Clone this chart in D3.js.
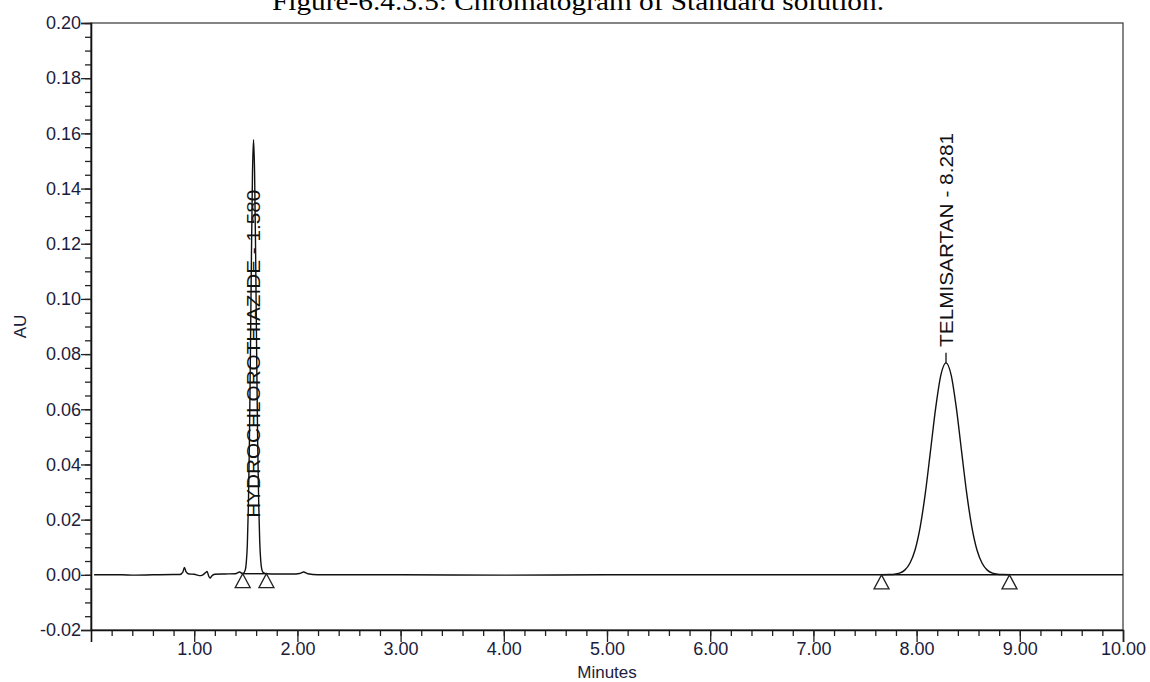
<!DOCTYPE html>
<html lang="en">
<head>
<meta charset="UTF-8">
<script src="https://d3js.org/d3.v7.min.js"></script>
<title>Chromatogram of Standard solution</title>
<style>
  body { margin: 0; background: #fff; }
  svg { display: block; }
</style>
</head>
<body>
<script>
    // detector trace (minutes, AU)
    var traceTime = [0.03, 0.30, 0.40, 0.60, 0.80, 0.86, 0.89, 0.905, 0.92, 0.95, 1.00, 1.05, 1.08, 1.11, 1.125, 1.14, 1.155, 1.17, 1.20, 1.30, 1.40, 1.44, 1.47,
        1.495, 1.505, 1.515, 1.525, 1.535, 1.545, 1.555, 1.565, 1.575, 1.585, 1.595, 1.605, 1.615, 1.625, 1.635, 1.645, 1.655, 1.67, 1.70,
        1.80, 1.95, 2.02, 2.06, 2.10, 2.20, 3.00, 4.00, 5.00, 6.00, 7.00, 7.60,
        7.735, 7.785, 7.835, 7.885, 7.935, 7.985, 8.035, 8.085, 8.135, 8.185, 8.235, 8.285,
        8.335, 8.385, 8.435, 8.485, 8.535, 8.585, 8.635, 8.685, 8.735, 8.785, 8.835, 9.00, 10.00];
    var traceAU = [0.0000, 0.0000, -0.0001, 0.0000, 0.0001, 0.0001, 0.0010, 0.0027, 0.0012, 0.0003, 0.0002, -0.0003, -0.0001, 0.0008, 0.0012, -0.0004, -0.0012, -0.0004, 0.0002, 0.0003, 0.0004, 0.0010, 0.0004,
        0.0018, 0.0046, 0.0110, 0.0250, 0.0480, 0.0810, 0.1170, 0.1460, 0.1577, 0.1460, 0.1170, 0.0810, 0.0480, 0.0260, 0.0120, 0.0050, 0.0020, 0.0008, 0.0004,
        0.0003, 0.0003, 0.0005, 0.0010, 0.0004, 0.0000, 0.0000, -0.0001, 0.0000, 0.0000, 0.0000, 0.0000,
        0.0001, 0.0002, 0.0006, 0.0017, 0.0042, 0.0090, 0.0174, 0.0297, 0.0450, 0.0605, 0.0724, 0.0768,
        0.0724, 0.0605, 0.0450, 0.0297, 0.0174, 0.0090, 0.0042, 0.0017, 0.0006, 0.0002, 0.0001, 0.0000, 0.0000];

    // peaks
    var peakNames = ["HYDROCHLOROTHIAZIDE - 1.580", "TELMISARTAN - 8.281"];
    var peakApexTime = [1.575, 8.285];
    var peakApexAU = [0.1577, 0.0768];
    var peakLabelAU = [0.0207, 0.0826];
    var peakStart = [1.47, 7.66];
    var peakEnd = [1.70, 8.90];
    var peakBaseAU = [0.0004, 0.0000];

    // axes
    var xTicks = [1, 2, 3, 4, 5, 6, 7, 8, 9, 10];
    var yTicks = [-0.02, 0.00, 0.02, 0.04, 0.06, 0.08, 0.10, 0.12, 0.14, 0.16, 0.18, 0.20];

    var w = 1150, h = 682;
    var margin = {top: 23, right: 27, bottom: 52, left: 91};

    var svg = d3.select("body").append("svg")
        .attr("width", w)
        .attr("height", h);

    var x = d3.scaleLinear().domain([0, 10]).range([margin.left, w - margin.right]);
    var y = d3.scaleLinear().domain([-0.02, 0.20]).range([h - margin.bottom, margin.top]);

    // title, cut off at the top like the scan
    svg.append("text")
        .attr("x", 272)
        .attr("y", 10)
        .attr("textLength", 612)
        .attr("lengthAdjust", "spacingAndGlyphs")
        .style("font-family", "'Liberation Serif', 'Times New Roman', serif")
        .style("font-size", "26px")
        .attr("fill", "#000")
        .text("Figure-6.4.3.5: Chromatogram of Standard solution.");

    // frame
    svg.append("rect")
        .attr("x", x(0))
        .attr("y", y(0.20))
        .attr("width", x(10) - x(0))
        .attr("height", y(-0.02) - y(0.20))
        .attr("fill", "none")
        .attr("stroke", "#444")
        .attr("stroke-width", 1.3);

    var tickColor = "#1c1c3c";

    // minor ticks
    svg.append("g")
        .attr("transform", "translate(0," + y(-0.02) + ")")
        .call(d3.axisBottom(x).tickValues(d3.range(0.2, 10, 0.2)).tickSize(6).tickFormat(""))
        .call(g => g.select(".domain").remove());
    svg.append("g")
        .attr("transform", "translate(" + x(0) + ",0)")
        .call(d3.axisLeft(y).tickValues(d3.range(-0.015, 0.2, 0.005)).tickSize(6).tickFormat(""))
        .call(g => g.select(".domain").remove());

    // major ticks + labels
    var xAxis = svg.append("g")
        .attr("transform", "translate(0," + y(-0.02) + ")")
        .call(d3.axisBottom(x).tickValues(xTicks).tickSize(12).tickPadding(0)
            .tickFormat(d => d.toFixed(2)));
    var yAxis = svg.append("g")
        .attr("transform", "translate(" + x(0) + ",0)")
        .call(d3.axisLeft(y).tickValues(yTicks).tickSize(10).tickPadding(0)
            .tickFormat(d => d.toFixed(2)));

    [xAxis, yAxis].forEach(function(g) {
        g.selectAll("text")
            .style("font-family", "'Liberation Sans', Arial, sans-serif")
            .style("font-size", "18px")
            .attr("fill", tickColor);
        g.select(".domain").attr("stroke", "#111").attr("stroke-width", 1.6);
    });
    svg.selectAll(".tick line").attr("stroke", "#222").attr("stroke-width", 1.3);

    // axis titles
    svg.append("text")
        .attr("x", (x(0) + x(10)) / 2)
        .attr("y", 678)
        .attr("text-anchor", "middle")
        .style("font-family", "'Liberation Sans', Arial, sans-serif")
        .style("font-size", "17px")
        .attr("fill", tickColor)
        .text("Minutes");

    svg.append("text")
        .attr("transform", "translate(26," + (y(0.09)) + ") rotate(-90)")
        .attr("text-anchor", "middle")
        .style("font-family", "'Liberation Sans', Arial, sans-serif")
        .style("font-size", "17px")
        .attr("fill", tickColor)
        .text("AU");

    // integration baselines
    svg.selectAll("line.base")
        .data(peakNames)
        .enter()
        .append("line")
        .attr("class", "base")
        .attr("x1", (d, i) => x(peakStart[i]))
        .attr("x2", (d, i) => x(peakEnd[i]))
        .attr("y1", (d, i) => y(peakBaseAU[i]))
        .attr("y2", (d, i) => y(peakBaseAU[i]))
        .attr("stroke", "#111")
        .attr("stroke-width", 1.4);

    // trace
    var points = traceTime.map((t, i) => [t, traceAU[i]]);
    var line = d3.line()
        .x(d => x(d[0]))
        .y(d => y(d[1]))
        .curve(d3.curveMonotoneX);

    svg.append("path")
        .datum(points)
        .attr("d", line)
        .attr("fill", "none")
        .attr("stroke", "#111")
        .attr("stroke-width", 1.4);

    // start / end markers
    var marks = [];
    peakNames.forEach(function(n, i) {
        marks.push([peakStart[i], peakBaseAU[i]]);
        marks.push([peakEnd[i], peakBaseAU[i]]);
    });
    svg.selectAll("path.mark")
        .data(marks)
        .enter()
        .append("path")
        .attr("class", "mark")
        .attr("d", function(d) {
            var cx = x(d[0]), cy = y(d[1]);
            return "M" + cx + "," + cy + "L" + (cx + 7.5) + "," + (cy + 14) + "L" + (cx - 7.5) + "," + (cy + 14) + "Z";
        })
        .attr("fill", "none")
        .attr("stroke", "#222")
        .attr("stroke-width", 1.3);

    // leader line on the second peak
    svg.append("line")
        .attr("x1", x(peakApexTime[1]))
        .attr("x2", x(peakApexTime[1]))
        .attr("y1", y(peakApexAU[1]))
        .attr("y2", y(0.0805))
        .attr("stroke", "#111")
        .attr("stroke-width", 1.3);

    // peak labels
    var labelLength = [328, 214];
    svg.selectAll("text.peak")
        .data(peakNames)
        .enter()
        .append("text")
        .attr("class", "peak")
        .attr("transform", (d, i) => "translate(" + x(peakApexTime[i]) + "," + y(peakLabelAU[i]) + ") rotate(-90)")
        .attr("dy", "0.36em")
        .attr("textLength", (d, i) => labelLength[i])
        .attr("lengthAdjust", "spacingAndGlyphs")
        .style("font-family", "'Liberation Sans', Arial, sans-serif")
        .style("font-size", "19px")
        .attr("fill", "#111")
        .text(d => d);
</script>
</body>
</html>
